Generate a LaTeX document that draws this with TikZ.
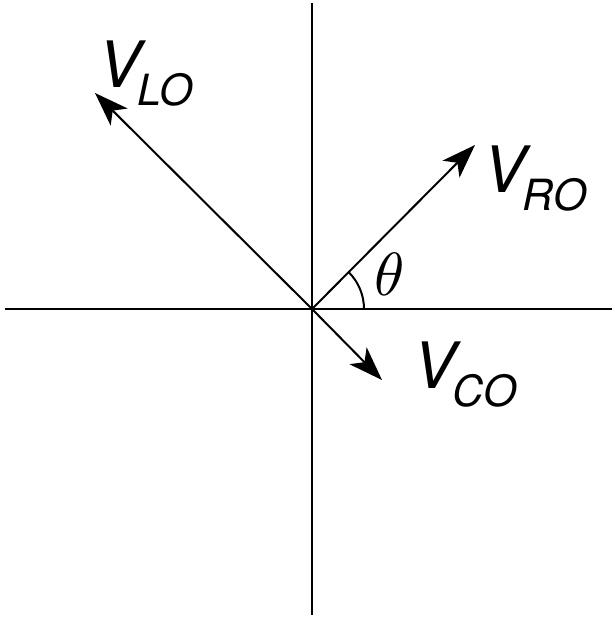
\documentclass[tikz,border=0pt]{standalone}
\usepackage{fontspec}
\setmainfont{TeX Gyre Heros}
\usetikzlibrary{arrows.meta}

\newcommand{\vlab}[1]{V\kern-3pt{\fontsize{43}{43}\selectfont\raisebox{-18pt}{#1}}}

\begin{document}
\begin{tikzpicture}[x=1pt,y=-1pt,
axis/.style={line width=2pt},
vec/.style={line width=2pt, -{Stealth[length=34pt,width=24pt,inset=9pt]}},
lab/.style={font=\fontsize{64}{64}\selectfont\itshape, inner sep=0pt, anchor=base west},
ang/.style={inner sep=0pt}
]
\useasboundingbox (0,0) rectangle (614,618);

% axes
\coordinate (o) at (312,309);
\coordinate (west) at (5,309);
\coordinate (east) at (612,309);
\coordinate (north) at (312,3);
\coordinate (south) at (312,615);
\draw[axis] (west) -- (east);
\draw[axis] (north) -- (south);

% vectors
\coordinate (lo) at (95,93);
\coordinate (ro) at (475,145);
\coordinate (co) at (382,380);
\draw[vec] (o) -- (lo);
\draw[vec] (o) -- (ro);
\draw[vec] (o) -- (co);

% angle
\draw[axis] ([xshift=52pt]o) arc[start angle=0, end angle=45, radius=52pt];
\node[ang] (theta) at (390,274) {\scalebox{6.1}{$\theta$}};

% labels
\node[lab] (vlo) at (98,87) {\vlab{LO}};
\node[lab] (vro) at (483,192) {\vlab{RO}};
\node[lab] (vco) at (413,388) {\vlab{CO}};
\end{tikzpicture}
\end{document}
